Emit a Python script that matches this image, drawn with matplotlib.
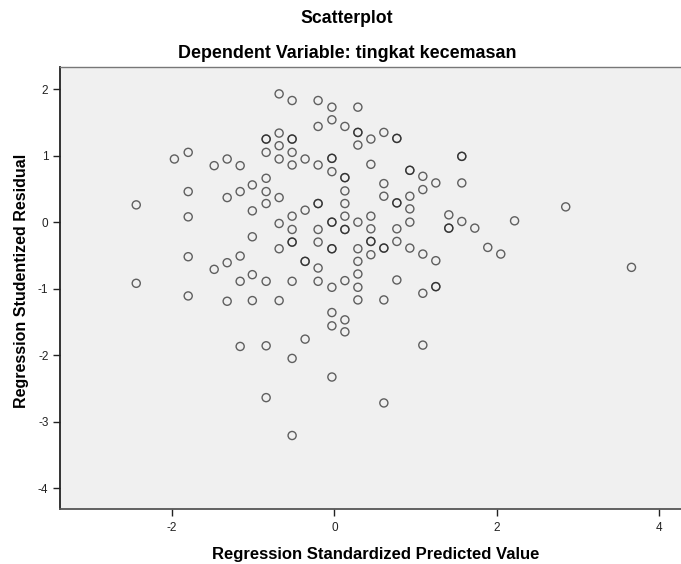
import matplotlib
matplotlib.use("Agg")
import matplotlib.pyplot as plt

# Regression standardized predicted value (x) and studentized residual (y)
pred_x = [
    -2.44, -1.97, -1.80, -1.80, -1.80, -1.80, -2.44, -1.48, -1.32, -1.16,
    -0.84, -0.84, -0.84, -0.84, -1.01, -1.16, -1.32, -0.84, -0.84, -1.01,
    -1.01, -1.16, -1.32, -1.48, -1.01, -1.16, -0.84,
    -0.68, -0.52, -0.20, -0.03, 0.29, -0.03, -0.20, 0.13, 0.29, 0.29,
    0.29, 0.45, 0.61, 0.77, 0.77, -0.68, -0.52, -0.52, -0.68, -0.52,
    -0.68, -0.52, -0.36, -0.20, -0.03, -0.03, -0.03, 0.13, 0.13, 0.45,
    1.57, 1.57, 0.93, 0.93, 1.09, 1.25, 1.57, 1.09, 0.61, 0.61,
    0.93, 0.77, 0.77, 0.93, 0.13, 0.13, -0.20, -0.20, -0.36, -0.68,
    -0.52, -0.68, -0.52, -0.03, -0.03, -0.20, 0.13, 0.13, 0.13, 0.29,
    0.45, 0.45, 0.77, 0.93, 1.41, 1.57, 1.41, 1.41, 1.73,
    -0.68, -0.52, -0.52, -0.20, -0.03, -0.03, -0.36, -0.36, -0.20, 0.29,
    0.29, 0.45, 0.45, 0.45, 0.61, 0.61, 0.77, 0.93, 1.09, 1.25,
    -0.52, -0.20, 0.13, 0.29, -0.03, 0.29, 0.77, 1.09, 1.25, 1.25,
    2.22, 1.89, 2.05, 2.85, 3.66,
    -1.80, -1.32, -1.01, -1.16, -0.84, -0.84,
    -0.68, 0.29, 0.61, -0.03, 0.13, -0.03, 0.13, -0.36, 1.09, -0.52,
    -0.03, 0.61, -0.52,
]
resid_y = [
    0.26, 0.95, 1.05, 0.46, 0.08, -0.52, -0.92, 0.85, 0.95, 0.85,
    1.25, 1.25, 1.05, 0.66, 0.56, 0.46, 0.37, 0.46, 0.28, 0.17,
    -0.22, -0.51, -0.61, -0.71, -0.79, -0.89, -0.89,
    1.93, 1.83, 1.83, 1.73, 1.73, 1.54, 1.44, 1.44, 1.35, 1.35,
    1.16, 1.25, 1.35, 1.26, 1.26, 1.34, 1.25, 1.25, 1.15, 1.05,
    0.95, 0.86, 0.95, 0.86, 0.96, 0.96, 0.76, 0.67, 0.67, 0.87,
    0.99, 0.99, 0.78, 0.78, 0.69, 0.59, 0.59, 0.49, 0.58, 0.39,
    0.39, 0.29, 0.29, 0.20, 0.47, 0.28, 0.28, 0.28, 0.18, 0.37,
    0.09, -0.02, -0.11, 0.00, 0.00, -0.11, 0.09, -0.11, -0.11, 0.00,
    0.09, -0.10, -0.10, 0.00, 0.11, 0.01, -0.09, -0.09, -0.09,
    -0.40, -0.30, -0.30, -0.30, -0.40, -0.40, -0.59, -0.59, -0.69, -0.40,
    -0.59, -0.29, -0.29, -0.49, -0.39, -0.39, -0.29, -0.39, -0.48, -0.58,
    -0.89, -0.89, -0.88, -0.78, -0.98, -0.98, -0.87, -1.07, -0.97, -0.97,
    0.02, -0.38, -0.48, 0.23, -0.68,
    -1.11, -1.19, -1.18, -1.87, -1.86, -2.64,
    -1.18, -1.17, -1.17, -1.36, -1.47, -1.56, -1.65, -1.76, -1.85, -2.05,
    -2.33, -2.72, -3.21,
]

x_ticks = [-2, 0, 2, 4]
y_ticks = [-4, -3, -2, -1, 0, 1, 2]

plt.rcParams['font.family'] = ['Liberation Sans', 'DejaVu Sans']
plt.rcParams['axes.unicode_minus'] = False

fig = plt.figure(figsize=(6.81, 5.64), dpi=100)
ax = fig.add_axes([0.0874, 0.097, 0.9126, 0.7837])
ax.set_facecolor('#f0f0f0')

ax.scatter(pred_x, resid_y, s=34, facecolors='none', edgecolors='#222222',
           linewidths=1.0, alpha=0.7, zorder=3)

ax.set_xlim(-3.385, 4.27)
ax.set_ylim(-4.32, 2.33)
ax.set_xticks(x_ticks)
ax.set_yticks(y_ticks)
ax.tick_params(axis='both', direction='out', length=5, width=1,
               labelsize=8.5, colors='#222222')
ax.tick_params(axis='x', pad=4)
ax.tick_params(axis='y', pad=3)

ax.spines['right'].set_visible(False)
ax.spines['left'].set_color('#222222')
ax.spines['left'].set_linewidth(1.3)
ax.spines['bottom'].set_color('#555555')
ax.spines['bottom'].set_linewidth(1.3)
ax.spines['top'].set_color('#777777')
ax.spines['top'].set_linewidth(1.0)

# titles and axis labels, placed on their baselines
fig.text(0.5095, 0.9587, 'Scatterplot', ha='center', va='baseline',
         fontsize=12.7, fontweight='bold')
fig.text(0.5095, 0.897, 'Dependent Variable: tingkat kecemasan', ha='center',
         va='baseline', fontsize=12.9, fontweight='bold')
fig.text(0.5514, 0.0083, 'Regression Standardized Predicted Value', ha='center',
         va='baseline', fontsize=12, fontweight='bold')
fig.text(0.0323, 0.502, 'Regression Studentized Residual', ha='center',
         va='center', rotation=90, fontsize=11.5, fontweight='bold')

fig.savefig('out.png', dpi=100)
